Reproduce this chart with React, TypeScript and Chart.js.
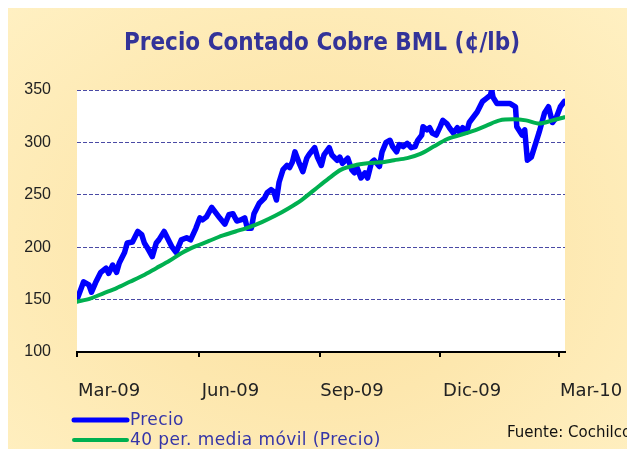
import React, { useEffect, useRef } from "react";
import { Chart, registerables } from "chart.js";

Chart.register(...registerables);

const titleText = "Precio Contado Cobre BML (¢/lb)";
const sourceText = "Fuente: Cochilco";
const seriesNames = ["Precio", "40 per. media móvil (Precio)"];
const tickDays = [0, 92, 184, 275, 365];
const tickLabels = ["Mar-09", "Jun-09", "Sep-09", "Dic-09", "Mar-10"];

// days since 1-Mar-2009
const priceDays = [
  0, 5, 9, 11, 14, 18, 22, 24, 27, 30, 32, 36, 38, 42, 46, 49, 51, 53, 57, 60,
  62, 66, 68, 72, 75, 79, 83, 86, 90, 93, 95, 98, 102, 105, 108, 112, 115, 118, 121, 124,
  127, 129, 132, 134, 138, 142, 144, 147, 149, 151, 153, 156, 159, 161, 163, 165, 168, 171, 174, 176,
  180, 182, 185, 187, 191, 193, 197, 199, 201, 205, 208, 210, 212, 215, 218, 220, 223, 225, 229, 231,
  234, 237, 239, 242, 244, 247, 250, 253, 256, 258, 261, 262, 265, 267, 269, 272, 275, 277, 280, 282,
  285, 288, 290, 292, 295, 297, 300, 303, 305, 307, 310, 313, 314, 315, 318, 324, 328, 332, 333, 337,
  339, 341, 344, 348, 350, 354, 357, 360, 363, 366, 369,
];
const priceValues = [
  150, 167, 164, 157, 166, 176, 180, 175, 183, 176, 185, 195, 204, 205, 215, 212, 204, 200, 191, 204,
  207, 215, 210, 200, 195, 207, 209, 207, 218, 228, 226, 229, 238, 233, 228, 222, 231, 232, 225, 226,
  228, 218, 218, 232, 242, 247, 252, 255, 253, 245, 262, 274, 278, 276, 281, 291, 281, 272, 285, 289,
  295, 286, 278, 288, 295, 288, 283, 286, 280, 285, 274, 271, 276, 266, 271, 266, 281, 283, 277, 291,
  300, 302, 296, 291, 298, 296, 299, 295, 296, 302, 307, 315, 312, 314, 309, 307, 315, 321, 318, 314,
  309, 314, 309, 314, 310, 319, 324, 329, 334, 339, 342, 345, 350, 343, 337, 337, 337, 334, 315, 307,
  312, 283, 286, 302, 310, 328, 334, 319, 324, 334, 339,
];

const avgDays = [
  0, 10, 20, 30, 40, 50, 60, 70, 80, 90, 100, 110, 120, 130, 140, 150, 160, 170, 180, 190,
  200, 210, 220, 230, 240, 250, 260, 270, 280, 290, 300, 310, 320, 330, 340, 350, 360, 369,
];
const avgValues = [
  148, 151, 156, 161, 167, 173, 180, 187, 195, 201, 206, 211, 215, 219, 224, 230, 237, 245, 255, 265,
  274, 278, 280, 281, 283, 285, 289, 296, 303, 307, 311, 316, 321, 322, 321, 318, 321, 324,
];

const yMin = 100;
const yMax = 350;
const yStep = 50;
const xMax = 369.5;

const BLUE = "#0000FF";
const GREEN = "#00B050";
const TITLE_COLOR = "#333399";
const LEGEND_TEXT = "#3535A8";

export default function App() {
  const ref = useRef<HTMLCanvasElement | null>(null);

  useEffect(() => {
    document.documentElement.style.overflow = "hidden";
    document.body.style.overflow = "hidden";
    const canvas = ref.current;
    if (!canvas) return;

    const plotBg = {
      id: "plotBg",
      beforeDraw(chart: any) {
        const { ctx, chartArea } = chart;
        ctx.save();
        ctx.fillStyle = "#FFFFFF";
        ctx.fillRect(chartArea.left, chartArea.top, chartArea.right - chartArea.left, chartArea.bottom - chartArea.top);
        ctx.restore();
      },
    };

    const decorations = {
      id: "decorations",
      afterDraw(chart: any) {
        const { ctx } = chart;
        ctx.save();
        // title
        ctx.font = "bold 24px 'Liberation Sans Narrow', 'DejaVu Sans Condensed', 'Liberation Sans', sans-serif";
        ctx.fillStyle = TITLE_COLOR;
        ctx.textAlign = "center";
        ctx.textBaseline = "middle";
        ctx.fillText(titleText, 314, 36);

        // legend
        const colors = [BLUE, GREEN];
        const widths = [5, 4];
        const ys = [412, 432];
        ctx.font = "17px 'DejaVu Sans', sans-serif";
        try {
          (ctx as any).letterSpacing = "0.4px";
        } catch (e) {}
        ctx.textAlign = "left";
        for (let i = 0; i < 2; i++) {
          ctx.strokeStyle = colors[i];
          ctx.lineWidth = widths[i];
          ctx.lineCap = "round";
          ctx.beginPath();
          ctx.moveTo(66, ys[i]);
          ctx.lineTo(119, ys[i]);
          ctx.stroke();
          ctx.fillStyle = LEGEND_TEXT;
          ctx.fillText(seriesNames[i], 122, ys[i] + 1);
        }
        try {
          (ctx as any).letterSpacing = "0px";
        } catch (e) {}
        // source
        ctx.font = "15px 'DejaVu Sans', sans-serif";
        ctx.fillStyle = "#111111";
        ctx.fillText(sourceText, 499, 425);
        ctx.restore();
      },
    };

    const chart = new Chart(canvas, {
      type: "line",
      data: {
        datasets: [
          {
            label: seriesNames[0],
            data: priceDays.map((d, i) => ({ x: d, y: priceValues[i] })),
            borderColor: BLUE,
            backgroundColor: BLUE,
            borderWidth: 5.5,
            pointRadius: 0,
            tension: 0,
            borderJoinStyle: "round",
            borderCapStyle: "round",
            order: 1,
          },
          {
            label: seriesNames[1],
            data: avgDays.map((d, i) => ({ x: d, y: avgValues[i] })),
            borderColor: GREEN,
            backgroundColor: GREEN,
            borderWidth: 4,
            pointRadius: 0,
            tension: 0.3,
            borderJoinStyle: "round",
            borderCapStyle: "round",
            order: 0,
          },
        ],
      },
      options: {
        animation: false,
        responsive: false,
        layout: { padding: { left: 0, top: 82, right: 62, bottom: 0 } },
        plugins: {
          legend: { display: false },
          title: { display: false },
          tooltip: { enabled: false },
        },
        scales: {
          x: {
            type: "linear",
            min: 0,
            max: xMax,
            afterBuildTicks: (scale: any) => {
              scale.ticks = tickDays.map((v) => ({ value: v }));
            },
            afterFit: (scale: any) => {
              scale.height = 97;
            },
            ticks: {
              callback: (v: any) => {
                const idx = tickDays.indexOf(Number(v));
                return idx >= 0 ? tickLabels[idx] : "";
              },
              labelOffset: 32,
              padding: 24,
              maxRotation: 0,
              autoSkip: false,
              color: "#222222",
              font: { family: "'DejaVu Sans', sans-serif", size: 18 },
            },
            grid: {
              display: true,
              drawOnChartArea: false,
              drawTicks: true,
              tickLength: 5,
              color: "#000000",
              lineWidth: 2,
            },
            border: { display: true, color: "#000000", width: 2 },
          },
          y: {
            min: yMin,
            max: yMax,
            afterFit: (scale: any) => {
              scale.width = 69;
            },
            ticks: {
              stepSize: yStep,
              padding: 26,
              color: "#222222",
              font: { family: "'Liberation Sans', sans-serif", size: 16 },
            },
            grid: {
              drawTicks: false,
              lineWidth: 1,
              color: (ctx: any) => (ctx.tick && ctx.tick.value === yMin ? "rgba(0,0,0,0)" : "#4A4AA5"),
            },
            border: { display: false, dash: [4, 2] },
          },
        },
      },
      plugins: [plotBg, decorations],
    });

    return () => {
      chart.destroy();
    };
  }, []);

  return (
    <div
      style={{
        position: "fixed",
        left: 8,
        top: 8,
        right: 0,
        bottom: 0,
        overflow: "hidden",
        background:
          "radial-gradient(ellipse at 50% 55%, #FCE1A0 0%, #FDE7AE 45%, #FFF0C2 100%)",
      }}
    >
      <canvas ref={ref} width={619} height={441} style={{ display: "block" }} />
    </div>
  );
}
